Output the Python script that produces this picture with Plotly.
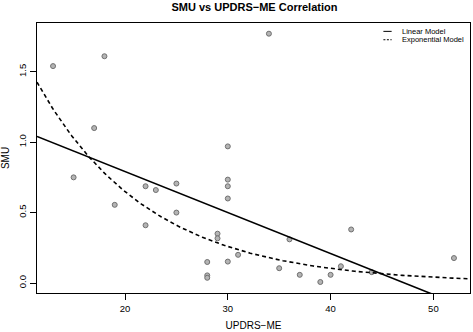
import numpy as np
import plotly.graph_objects as go

updrs_me = [13, 18, 17, 15, 19, 22, 22, 23, 25, 25, 29, 29, 28, 28, 28,
            30, 30, 30, 30, 30, 31, 36, 35, 37, 39, 40, 41, 42, 44, 52, 34]
smu = [1.54, 1.61, 1.10, 0.75, 0.555, 0.41, 0.687, 0.66, 0.706, 0.50, 0.35, 0.317,
       0.149, 0.054, 0.037, 0.734, 0.687, 0.60, 0.152, 0.97, 0.20, 0.31, 0.105,
       0.058, 0.007, 0.058, 0.119, 0.38, 0.077, 0.177, 1.77]

# model parameters
lin_intercept, lin_slope = 1.373, -0.0291
exp_a, exp_k = 4.08, 0.0919

x_range = [11.44, 53.56]
y_range = [-0.071, 1.846]

legend_labels = ["Linear Model", "Exponential Model"]

xs = np.linspace(x_range[0], x_range[1], 200)

font = "Liberation Sans, Arial, sans-serif"

fig = go.Figure()
fig.add_trace(go.Scatter(
    x=updrs_me, y=smu, mode="markers", showlegend=False,
    marker=dict(size=5, color="#b4b4b4", line=dict(color="#707070", width=1)),
))
fig.add_trace(go.Scatter(
    x=xs, y=lin_intercept + lin_slope * xs, mode="lines", name=legend_labels[0],
    showlegend=False, line=dict(color="black", width=1.6),
))
fig.add_trace(go.Scatter(
    x=xs, y=exp_a * np.exp(-exp_k * xs), mode="lines", name=legend_labels[1],
    showlegend=False, line=dict(color="black", width=1.6, dash="4px,3px"),
))

# compact legend (key lines + labels) in paper coordinates
leg_rows = [0.969, 0.938]
leg_dash = ["solid", "2px,1.5px"]
for lab, yy, dd in zip(legend_labels, leg_rows, leg_dash):
    fig.add_shape(type="line", xref="paper", yref="paper", x0=0.800, x1=0.819,
                  y0=yy, y1=yy, line=dict(color="black", width=1, dash=dd))
    fig.add_annotation(text=lab, xref="paper", yref="paper", x=0.839, y=yy,
                       xanchor="left", yanchor="middle", showarrow=False,
                       font=dict(size=7.5, family=font, color="black"))

fig.update_layout(
    width=473, height=332,
    margin=dict(l=37, r=2, t=23, b=36),
    paper_bgcolor="white", plot_bgcolor="white",
    font=dict(family=font, color="black", size=9),
    title=dict(text="<b>SMU vs UPDRS−ME Correlation</b>", x=0.538, xanchor="center",
               y=0.99, yanchor="top", font=dict(size=11, family=font)),
    showlegend=False,
)
fig.update_xaxes(
    range=x_range, tickvals=[20, 30, 40, 50], ticks="outside", ticklen=6,
    tickcolor="black", tickwidth=1.2, showline=True, linecolor="black",
    linewidth=1.3, mirror=True, showgrid=False, zeroline=False,
    title=dict(text="UPDRS−ME", font=dict(size=10), standoff=9),
    tickfont=dict(size=9.5),
)
fig.update_yaxes(
    range=y_range, tickvals=[0, 0.5, 1.0, 1.5], tickformat=".1f", ticks="outside",
    ticklen=6, tickcolor="black", tickwidth=1.2, showline=True, linecolor="black",
    linewidth=1.3, mirror=True, showgrid=False, zeroline=False,
    tickangle=-90,
    title=dict(text="SMU", font=dict(size=10), standoff=6),
    tickfont=dict(size=9.5),
)

fig.write_html("out.html", config={"displayModeBar": False},
               post_script="document.body.style.margin='0';")
